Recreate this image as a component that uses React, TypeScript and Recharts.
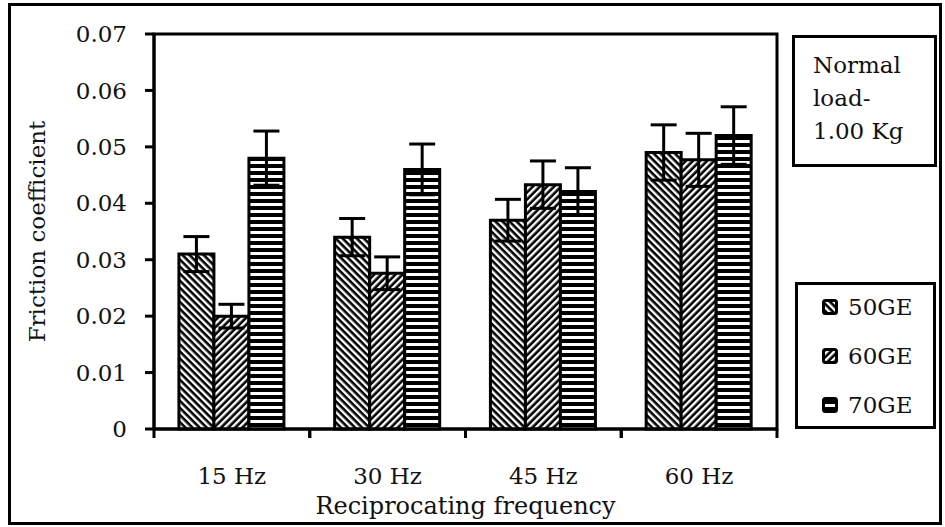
import React from "react";
import {
  Bar,
  BarChart,
  ErrorBar,
  Label,
  Legend,
  ReferenceArea,
  XAxis,
  YAxis,
} from "recharts";

const FREQS = ["15 Hz", "30 Hz", "45 Hz", "60 Hz"];
const GE50 = [0.031, 0.034, 0.037, 0.049];
const GE60 = [0.02, 0.0276, 0.0433, 0.0477];
const GE70 = [0.048, 0.046, 0.0421, 0.052];
const ERR50 = [0.0031, 0.0033, 0.0037, 0.0049];
const ERR60 = [0.0021, 0.0029, 0.0042, 0.0047];
const ERR70 = [0.0048, 0.0045, 0.0042, 0.0051];
const Y_TICKS = [0, 0.01, 0.02, 0.03, 0.04, 0.05, 0.06, 0.07];

const SERIES = [
  { key: "ge50", err: "err50", name: "50GE", fill: "url(#hatchBack)" },
  { key: "ge60", err: "err60", name: "60GE", fill: "url(#hatchFwd)" },
  { key: "ge70", err: "err70", name: "70GE", fill: "url(#hatchFlat)" },
];

const data = FREQS.map((freq, i) => ({
  freq,
  ge50: GE50[i],
  ge60: GE60[i],
  ge70: GE70[i],
  err50: ERR50[i],
  err60: ERR60[i],
  err70: ERR70[i],
}));

const FONT = "'DejaVu Serif', serif";
const INK = "#111";
const line = { stroke: "#000", strokeWidth: 3 };

function yLabel(v: number) {
  return v === 0 ? "0" : v.toFixed(2);
}

// category name in the middle, short ticks on both band edges
function FreqTick(props: any) {
  const { x, y, payload } = props;
  const half = payload.offset ?? 0;
  return (
    <g>
      <line x1={x - half} x2={x - half} y1={y} y2={y + 9} {...line} />
      <line x1={x + half} x2={x + half} y1={y} y2={y + 9} {...line} />
      <text x={x} y={y + 55} textAnchor="middle" fontFamily={FONT} fontSize={23} fill={INK}>
        {payload.value}
      </text>
    </g>
  );
}

function Swatch({ fill }: { fill: string }) {
  return (
    <svg width={16} height={16} style={{ display: "block" }}>
      <rect x={1.5} y={1.5} width={13} height={13} rx={2} fill={fill} stroke="#000" strokeWidth={3} />
    </svg>
  );
}

function LegendBox() {
  return (
    <div
      style={{
        boxSizing: "border-box",
        width: 141,
        height: 147,
        border: "3px solid #000",
        background: "#fff",
      }}
    >
      {SERIES.map((s) => (
        <div
          key={s.key}
          style={{
            display: "flex",
            alignItems: "center",
            height: 49,
            paddingLeft: 24,
            gap: 10,
            position: "relative",
            top: -3,
          }}
        >
          <Swatch fill={s.fill} />
          <span style={{ fontFamily: FONT, fontSize: 23, color: INK }}>{s.name}</span>
        </div>
      ))}
    </div>
  );
}

export default function App() {
  return (
    <div style={{ position: "absolute", left: 0, top: 0, width: 945, height: 527, background: "#fff" }}>
      <div
        style={{
          position: "absolute",
          left: 8,
          top: 3,
          width: 934,
          height: 522,
          boxSizing: "border-box",
          border: "3px solid #000",
        }}
      />
      <BarChart
        width={945}
        height={527}
        data={data}
        margin={{ top: 34, right: 168, bottom: 0, left: 30 }}
        barCategoryGap="16%"
        barGap={0}
        style={{ position: "absolute", left: 0, top: 0 }}
      >
        <defs>
          <pattern id="hatchBack" width={5} height={5} patternUnits="userSpaceOnUse" patternTransform="rotate(-45)">
            <rect width={5} height={5} fill="#000" />
            <rect width={2.4} height={5} fill="#fff" />
          </pattern>
          <pattern id="hatchFwd" width={5} height={5} patternUnits="userSpaceOnUse" patternTransform="rotate(45)">
            <rect width={5} height={5} fill="#000" />
            <rect width={2.4} height={5} fill="#fff" />
          </pattern>
          <pattern id="hatchFlat" width={7} height={7} patternUnits="userSpaceOnUse">
            <rect width={7} height={7} fill="#000" />
            <rect y={0} width={7} height={3} fill="#fff" />
          </pattern>
        </defs>
        <XAxis
          dataKey="freq"
          interval={0}
          height={98}
          tickSize={0}
          tickMargin={0}
          tickLine={false}
          axisLine={line}
          tick={FreqTick}
        >
          <Label
            value="Reciprocating frequency"
            position="insideBottom"
            offset={13}
            style={{ fontFamily: FONT, fontSize: 24, fill: INK }}
          />
        </XAxis>
        <YAxis
          domain={[0, 0.07]}
          ticks={Y_TICKS}
          interval={0}
          width={124}
          tickSize={9}
          tickMargin={18}
          tickFormatter={yLabel}
          axisLine={line}
          tickLine={line}
          tick={{ fontFamily: FONT, fontSize: 23, fill: INK }}
        >
          <Label
            value="Friction coefficient"
            angle={-90}
            position="insideLeft"
            offset={7}
            style={{ fontFamily: FONT, fontSize: 23, fill: INK, textAnchor: "middle" }}
          />
        </YAxis>
        {/* frame around the plotting area */}
        <ReferenceArea
          x1={FREQS[0]}
          x2={FREQS[FREQS.length - 1]}
          y1={0}
          y2={0.07}
          fill="none"
          fillOpacity={0}
          stroke="#000"
          strokeWidth={3}
        />
        <Legend
          layout="vertical"
          align="center"
          verticalAlign="middle"
          wrapperStyle={{ left: 795, top: 282, width: 141, height: 147 }}
          content={() => <LegendBox />}
        />
        {SERIES.map((s) => (
          <Bar
            key={s.key}
            dataKey={s.key}
            name={s.name}
            fill={s.fill}
            stroke="#000"
            strokeWidth={3}
            isAnimationActive={false}
          >
            <ErrorBar dataKey={s.err} width={13} stroke="#000" strokeWidth={3} direction="y" isAnimationActive={false} />
          </Bar>
        ))}
      </BarChart>
      <div
        style={{
          position: "absolute",
          left: 792,
          top: 35,
          width: 145,
          height: 132,
          boxSizing: "border-box",
          border: "3px solid #000",
          paddingTop: 11,
          paddingLeft: 18,
          fontFamily: FONT,
          fontSize: 23,
          lineHeight: "33px",
          color: INK,
        }}
      >
        Normal
        <br />
        load-
        <br />
        1.00 Kg
      </div>
    </div>
  );
}
